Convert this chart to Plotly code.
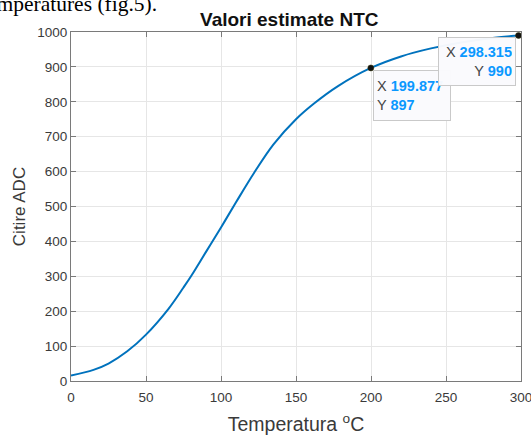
import plotly.graph_objects as go

# Curve (temperature degC -> ADC reading)
temp_c = [0, 15, 25, 37.5, 50, 65, 75, 80, 90, 100, 110, 122, 135, 150, 162, 178,
          199.877, 220, 240, 260, 280, 298.315, 300]
adc = [16, 32, 50, 85, 133, 207, 268, 300, 370, 440, 512, 596, 678, 750, 795, 845,
       897, 930, 953, 970, 982, 990, 990.7]

# Data tips
tip_x = [199.877, 298.315]
tip_y = [897, 990]
tip_x_lbl = ["199.877", "298.315"]
tip_y_lbl = ["897", "990"]

x_ticks = [0, 50, 100, 150, 200, 250, 300]
y_ticks = [0, 100, 200, 300, 400, 500, 600, 700, 800, 900, 1000]

title_txt = "Valori estimate NTC"
x_title = "Temperatura <sup>o</sup>C"
y_title = "Citire ADC"
doc_text = "temperatures (fig.5)."

FONT = "Liberation Sans, Arial, sans-serif"
AX = "#7a7a7a"
TXT = "#3a3a3a"
BLUE = "#0a98ff"

fig = go.Figure()
fig.add_trace(go.Scatter(x=temp_c, y=adc, mode="lines",
                         line=dict(color="#0072BD", width=2, shape="spline", smoothing=1.0),
                         hoverinfo="skip", showlegend=False))
fig.add_trace(go.Scatter(x=tip_x, y=tip_y, mode="markers",
                         marker=dict(color="#111111", size=6, line=dict(color="#333300", width=0.5)),
                         hoverinfo="skip", showlegend=False))

axis_common = dict(showline=True, linecolor=AX, linewidth=1, mirror="ticks",
                   ticks="inside", ticklen=5, tickcolor=AX, tickwidth=1,
                   showgrid=True, gridcolor="#e6e6e6", gridwidth=1, zeroline=False,
                   automargin=False, ticklabeloverflow="allow",
                   tickfont=dict(family=FONT, size=13.5, color=TXT))

fig.update_layout(
    width=531, height=437,
    margin=dict(l=71, r=10, t=32, b=55.5),
    paper_bgcolor="white", plot_bgcolor="white",
    title=dict(text="<b>" + title_txt + "</b>", x=0.485, xref="paper", xanchor="center",
               y=1, yref="paper", yanchor="bottom", pad=dict(b=6), automargin=False,
               font=dict(family=FONT, size=19, color="#111111")),
    xaxis=dict(range=[0, 300], tickvals=x_ticks, ticklabelstandoff=4,
               title=dict(text=x_title, font=dict(family=FONT, size=19.5, color=TXT), standoff=13),
               **axis_common),
    yaxis=dict(range=[0, 1000], tickvals=y_ticks,
               title=dict(text=y_title, font=dict(family=FONT, size=17, color=TXT), standoff=7),
               **axis_common),
)

# Cut-off document text above the chart
fig.add_annotation(text=doc_text, xref="paper", yref="paper", x=-0.2044, y=1.041,
                   xanchor="left", yanchor="bottom", showarrow=False,
                   font=dict(family="Liberation Serif, Times New Roman, serif", size=21.5, color="#000000"))

def tip_text(xl, yl):
    return ('<span style="color:#444444">X</span> <b><span style="color:%s">%s</span></b><br>'
            '<span style="color:#444444">Y</span> <b><span style="color:%s">%s</span></b>') % (BLUE, xl, BLUE, yl)

fig.add_annotation(text=tip_text(tip_x_lbl[0], tip_y_lbl[0]), x=tip_x[0], y=tip_y[0],
                   xref="x", yref="y", xanchor="left", yanchor="top", xshift=2, yshift=-2,
                   showarrow=False, align="left", width=70, height=43, borderpad=3,
                   bgcolor="rgba(250,250,253,0.97)", bordercolor="#c9c9c9", borderwidth=1,
                   font=dict(family=FONT, size=14.5))
fig.add_annotation(text=tip_text(tip_x_lbl[1], tip_y_lbl[1]), x=tip_x[1], y=tip_y[1],
                   xref="x", yref="y", xanchor="right", yanchor="top", xshift=-2, yshift=-2,
                   showarrow=False, align="right", width=70, height=41, borderpad=3,
                   bgcolor="rgba(250,250,253,0.97)", bordercolor="#c9c9c9", borderwidth=1,
                   font=dict(family=FONT, size=14.5))

fig.write_html("out.html", config={"displayModeBar": False},
               post_script="document.body.style.margin='0';")
